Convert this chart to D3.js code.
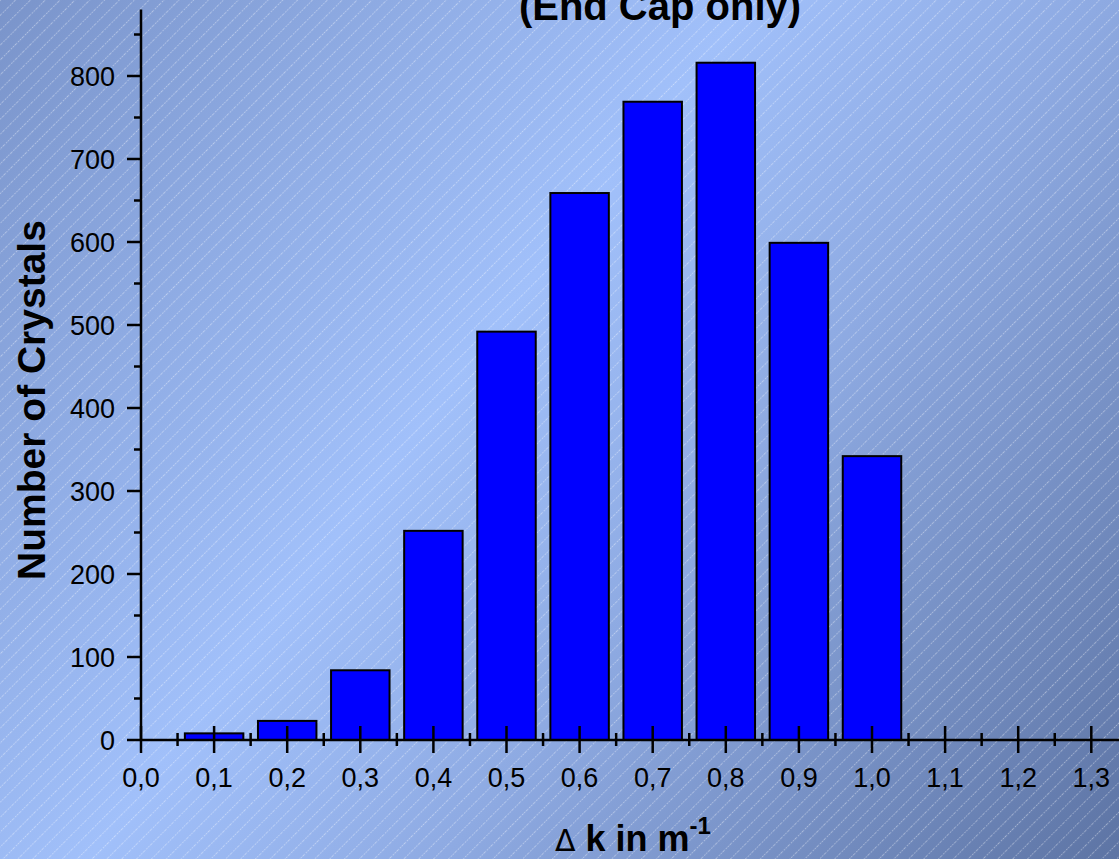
<!DOCTYPE html>
<html>
<head>
<meta charset="utf-8">
<script src="https://cdn.jsdelivr.net/npm/d3@7"></script>
<style>
html,body{margin:0;padding:0;overflow:hidden;background:#8fa9de;}
svg{display:block;font-family:"Liberation Sans",Arial,sans-serif;}
</style>
</head>
<body>
<svg id="chart" width="1119" height="859"></svg>
<script>
// ---- data ----
const binCenters = [0.1, 0.2, 0.3, 0.4, 0.5, 0.6, 0.7, 0.8, 0.9, 1.0];
const crystalCounts = [8, 23, 84, 252, 492, 659, 769, 816, 599, 342];
const xTickValues = [0.0, 0.1, 0.2, 0.3, 0.4, 0.5, 0.6, 0.7, 0.8, 0.9, 1.0, 1.1, 1.2, 1.3];
const yTickValues = [0, 100, 200, 300, 400, 500, 600, 700, 800];
const titleText = "(End Cap only)";
const yLabelText = "Number of Crystals";

const W = 1119, H = 859;
const svg = d3.select("#chart");
const defs = svg.append("defs");

// background gradient
const grad = defs.append("linearGradient").attr("id","bg")
  .attr("gradientUnits","userSpaceOnUse")
  .attr("x1",0).attr("y1",0).attr("x2",W).attr("y2",H);
grad.append("stop").attr("offset","0").attr("stop-color","#7a94ca");
grad.append("stop").attr("offset","0.42").attr("stop-color","#a1c0fa");
grad.append("stop").attr("offset","0.62").attr("stop-color","#8eaae2");
grad.append("stop").attr("offset","1").attr("stop-color","#5d74a4");

// diagonal hatch
const pat = defs.append("pattern").attr("id","hatch")
  .attr("patternUnits","userSpaceOnUse")
  .attr("width",10.5).attr("height",10)
  .attr("patternTransform","rotate(45)");
pat.append("line").attr("x1",0.5).attr("y1",0).attr("x2",0.5).attr("y2",10)
  .attr("stroke","#ffffff").attr("stroke-opacity",0.4)
  .attr("stroke-width",1).attr("stroke-dasharray","1.4,1.4");

svg.append("rect").attr("width",W).attr("height",H).attr("fill","url(#bg)");
svg.append("rect").attr("width",W).attr("height",H).attr("fill","url(#hatch)");

// scales
const x0 = 141, yBase = 740;
const x = d3.scaleLinear().domain([0, 1.338]).range([x0, x0 + 1.338*731]);
const y = d3.scaleLinear().domain([0, 880]).range([yBase, yBase - 880*0.83]);

// bars
const bw = 0.08;
svg.append("g").selectAll("rect").data(binCenters).join("rect")
  .attr("x", (d) => x(d - bw/2))
  .attr("width", (d) => x(d + bw/2) - x(d - bw/2))
  .attr("y", (d,i) => y(crystalCounts[i]))
  .attr("height", (d,i) => y(0) - y(crystalCounts[i]))
  .attr("fill","#0000ff").attr("stroke","#000").attr("stroke-width",2);

// x axis
const fmtX = (v) => d3.format(".1f")(v).replace(".", ",");
const gx = svg.append("g").attr("transform",`translate(0,${yBase})`);
gx.append("line").attr("x1",x(0)).attr("x2",W).attr("stroke","#000").attr("stroke-width",2.5);
const xMinor = d3.range(0.05, 1.34, 0.1);
gx.selectAll(".xmin").data(xMinor).join("line")
  .attr("x1",(d)=>x(d)).attr("x2",(d)=>x(d)).attr("y1",-7).attr("y2",6)
  .attr("stroke","#000").attr("stroke-width",2.5);
gx.selectAll(".xmaj").data(xTickValues).join("line")
  .attr("x1",(d)=>x(d)).attr("x2",(d)=>x(d)).attr("y1",-14).attr("y2",13)
  .attr("stroke","#000").attr("stroke-width",2.5);
gx.selectAll("text").data(xTickValues).join("text")
  .attr("x",(d)=>x(d)).attr("y",47).attr("text-anchor","middle")
  .attr("font-size",27).attr("fill","#000").text(fmtX);

// y axis
const gy = svg.append("g").attr("transform",`translate(${x0},0)`);
gy.append("line").attr("y1",y(0)).attr("y2",y(880)).attr("stroke","#000").attr("stroke-width",2.5);
const yMinor = d3.range(50, 880, 100);
gy.selectAll(".ymin").data(yMinor).join("line")
  .attr("x1",-7).attr("x2",0).attr("y1",(d)=>y(d)).attr("y2",(d)=>y(d))
  .attr("stroke","#000").attr("stroke-width",2.5);
gy.selectAll(".ymaj").data(yTickValues).join("line")
  .attr("x1",-14).attr("x2",0).attr("y1",(d)=>y(d)).attr("y2",(d)=>y(d))
  .attr("stroke","#000").attr("stroke-width",2.5);
gy.selectAll("text").data(yTickValues).join("text")
  .attr("x",-26).attr("y",(d)=>y(d)+9.5).attr("text-anchor","end")
  .attr("font-size",27).attr("fill","#000").text((d)=>d);

// title (clipped at top, as in the reference)
svg.append("text").attr("x",660).attr("y",20).attr("text-anchor","middle")
  .attr("font-size",40).attr("font-weight","bold").attr("fill","#000").text(titleText);

// y label
svg.append("text").attr("transform","translate(45,400) rotate(-90)")
  .attr("text-anchor","middle").attr("font-size",39).attr("font-weight","bold")
  .attr("fill","#000").text(yLabelText);

// x label
const xl = svg.append("text").attr("x",633).attr("y",851).attr("text-anchor","middle").attr("fill","#000");
xl.append("tspan").attr("font-size",30).attr("font-family","'DejaVu Sans',sans-serif").text("\u0394");
xl.append("tspan").attr("font-size",36).attr("font-weight","bold").text(" k in m");
xl.append("tspan").attr("font-size",24).attr("font-weight","bold").attr("dy",-17).text("-1");
</script>
</body>
</html>
